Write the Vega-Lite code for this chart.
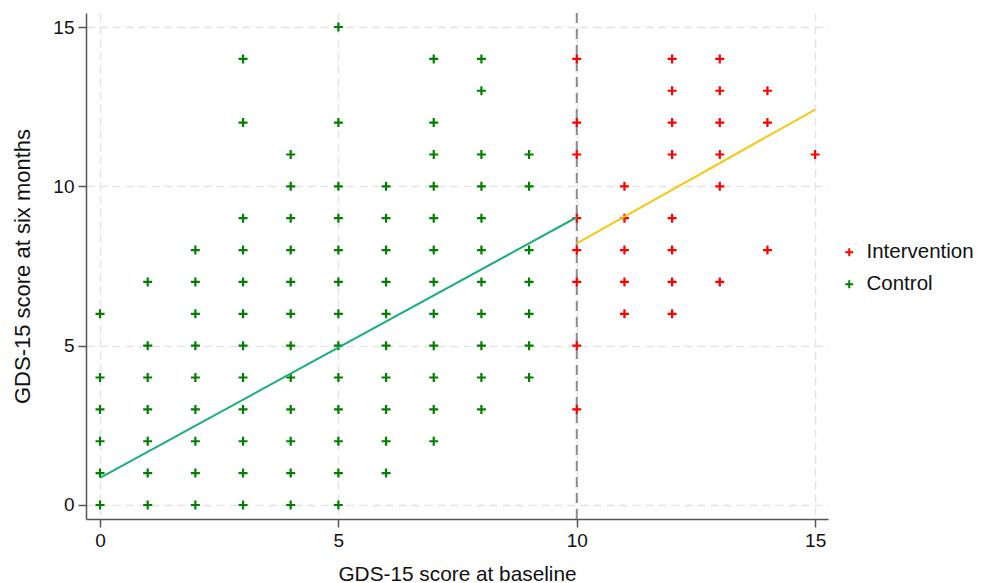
{
  "$schema": "https://vega.github.io/schema/vega-lite/v6.json",
  "autosize": {"type": "none"},
  "padding": {"left": 86, "top": 13, "right": 162, "bottom": 64},
  "width": 742,
  "height": 506,
  "background": "white",
  "config": {
    "view": {"stroke": null},
    "font": "Liberation Sans",
    "axis": {
      "labelFont": "Liberation Sans",
      "titleFont": "Liberation Sans",
      "labelFontSize": 19,
      "titleFontSize": 21,
      "titleFontWeight": "normal",
      "labelColor": "#111111",
      "titleColor": "#111111",
      "domainColor": "#555555",
      "domainWidth": 1.5,
      "tickColor": "#555555",
      "tickWidth": 1.5,
      "tickSize": 8,
      "labelPadding": 4,
      "grid": true,
      "gridColor": "#e3e3e3",
      "gridWidth": 1.5,
      "gridDash": [8, 5]
    },
    "legend": {
      "labelFont": "Liberation Sans",
      "labelFontSize": 20.5,
      "labelColor": "#111111"
    }
  },
  "datasets": {
    "points": [
      {"baseline": 0, "six_months": 6, "group": "Control"},
      {"baseline": 0, "six_months": 4, "group": "Control"},
      {"baseline": 0, "six_months": 3, "group": "Control"},
      {"baseline": 0, "six_months": 2, "group": "Control"},
      {"baseline": 0, "six_months": 1, "group": "Control"},
      {"baseline": 0, "six_months": 0, "group": "Control"},
      {"baseline": 1, "six_months": 7, "group": "Control"},
      {"baseline": 1, "six_months": 5, "group": "Control"},
      {"baseline": 1, "six_months": 4, "group": "Control"},
      {"baseline": 1, "six_months": 3, "group": "Control"},
      {"baseline": 1, "six_months": 2, "group": "Control"},
      {"baseline": 1, "six_months": 1, "group": "Control"},
      {"baseline": 1, "six_months": 0, "group": "Control"},
      {"baseline": 2, "six_months": 8, "group": "Control"},
      {"baseline": 2, "six_months": 7, "group": "Control"},
      {"baseline": 2, "six_months": 6, "group": "Control"},
      {"baseline": 2, "six_months": 5, "group": "Control"},
      {"baseline": 2, "six_months": 4, "group": "Control"},
      {"baseline": 2, "six_months": 3, "group": "Control"},
      {"baseline": 2, "six_months": 2, "group": "Control"},
      {"baseline": 2, "six_months": 1, "group": "Control"},
      {"baseline": 2, "six_months": 0, "group": "Control"},
      {"baseline": 3, "six_months": 14, "group": "Control"},
      {"baseline": 3, "six_months": 12, "group": "Control"},
      {"baseline": 3, "six_months": 9, "group": "Control"},
      {"baseline": 3, "six_months": 8, "group": "Control"},
      {"baseline": 3, "six_months": 7, "group": "Control"},
      {"baseline": 3, "six_months": 6, "group": "Control"},
      {"baseline": 3, "six_months": 5, "group": "Control"},
      {"baseline": 3, "six_months": 4, "group": "Control"},
      {"baseline": 3, "six_months": 3, "group": "Control"},
      {"baseline": 3, "six_months": 2, "group": "Control"},
      {"baseline": 3, "six_months": 1, "group": "Control"},
      {"baseline": 3, "six_months": 0, "group": "Control"},
      {"baseline": 4, "six_months": 11, "group": "Control"},
      {"baseline": 4, "six_months": 10, "group": "Control"},
      {"baseline": 4, "six_months": 9, "group": "Control"},
      {"baseline": 4, "six_months": 8, "group": "Control"},
      {"baseline": 4, "six_months": 7, "group": "Control"},
      {"baseline": 4, "six_months": 6, "group": "Control"},
      {"baseline": 4, "six_months": 5, "group": "Control"},
      {"baseline": 4, "six_months": 4, "group": "Control"},
      {"baseline": 4, "six_months": 3, "group": "Control"},
      {"baseline": 4, "six_months": 2, "group": "Control"},
      {"baseline": 4, "six_months": 1, "group": "Control"},
      {"baseline": 4, "six_months": 0, "group": "Control"},
      {"baseline": 5, "six_months": 15, "group": "Control"},
      {"baseline": 5, "six_months": 12, "group": "Control"},
      {"baseline": 5, "six_months": 10, "group": "Control"},
      {"baseline": 5, "six_months": 9, "group": "Control"},
      {"baseline": 5, "six_months": 8, "group": "Control"},
      {"baseline": 5, "six_months": 7, "group": "Control"},
      {"baseline": 5, "six_months": 6, "group": "Control"},
      {"baseline": 5, "six_months": 5, "group": "Control"},
      {"baseline": 5, "six_months": 4, "group": "Control"},
      {"baseline": 5, "six_months": 3, "group": "Control"},
      {"baseline": 5, "six_months": 2, "group": "Control"},
      {"baseline": 5, "six_months": 1, "group": "Control"},
      {"baseline": 5, "six_months": 0, "group": "Control"},
      {"baseline": 6, "six_months": 10, "group": "Control"},
      {"baseline": 6, "six_months": 9, "group": "Control"},
      {"baseline": 6, "six_months": 8, "group": "Control"},
      {"baseline": 6, "six_months": 7, "group": "Control"},
      {"baseline": 6, "six_months": 6, "group": "Control"},
      {"baseline": 6, "six_months": 5, "group": "Control"},
      {"baseline": 6, "six_months": 4, "group": "Control"},
      {"baseline": 6, "six_months": 3, "group": "Control"},
      {"baseline": 6, "six_months": 2, "group": "Control"},
      {"baseline": 6, "six_months": 1, "group": "Control"},
      {"baseline": 7, "six_months": 14, "group": "Control"},
      {"baseline": 7, "six_months": 12, "group": "Control"},
      {"baseline": 7, "six_months": 11, "group": "Control"},
      {"baseline": 7, "six_months": 10, "group": "Control"},
      {"baseline": 7, "six_months": 9, "group": "Control"},
      {"baseline": 7, "six_months": 8, "group": "Control"},
      {"baseline": 7, "six_months": 7, "group": "Control"},
      {"baseline": 7, "six_months": 6, "group": "Control"},
      {"baseline": 7, "six_months": 5, "group": "Control"},
      {"baseline": 7, "six_months": 4, "group": "Control"},
      {"baseline": 7, "six_months": 3, "group": "Control"},
      {"baseline": 7, "six_months": 2, "group": "Control"},
      {"baseline": 8, "six_months": 14, "group": "Control"},
      {"baseline": 8, "six_months": 13, "group": "Control"},
      {"baseline": 8, "six_months": 11, "group": "Control"},
      {"baseline": 8, "six_months": 10, "group": "Control"},
      {"baseline": 8, "six_months": 9, "group": "Control"},
      {"baseline": 8, "six_months": 8, "group": "Control"},
      {"baseline": 8, "six_months": 7, "group": "Control"},
      {"baseline": 8, "six_months": 6, "group": "Control"},
      {"baseline": 8, "six_months": 5, "group": "Control"},
      {"baseline": 8, "six_months": 4, "group": "Control"},
      {"baseline": 8, "six_months": 3, "group": "Control"},
      {"baseline": 9, "six_months": 11, "group": "Control"},
      {"baseline": 9, "six_months": 10, "group": "Control"},
      {"baseline": 9, "six_months": 8, "group": "Control"},
      {"baseline": 9, "six_months": 7, "group": "Control"},
      {"baseline": 9, "six_months": 6, "group": "Control"},
      {"baseline": 9, "six_months": 5, "group": "Control"},
      {"baseline": 9, "six_months": 4, "group": "Control"},
      {"baseline": 10, "six_months": 14, "group": "Intervention"},
      {"baseline": 10, "six_months": 12, "group": "Intervention"},
      {"baseline": 10, "six_months": 11, "group": "Intervention"},
      {"baseline": 10, "six_months": 9, "group": "Intervention"},
      {"baseline": 10, "six_months": 8, "group": "Intervention"},
      {"baseline": 10, "six_months": 7, "group": "Intervention"},
      {"baseline": 10, "six_months": 5, "group": "Intervention"},
      {"baseline": 10, "six_months": 3, "group": "Intervention"},
      {"baseline": 11, "six_months": 10, "group": "Intervention"},
      {"baseline": 11, "six_months": 9, "group": "Intervention"},
      {"baseline": 11, "six_months": 8, "group": "Intervention"},
      {"baseline": 11, "six_months": 7, "group": "Intervention"},
      {"baseline": 11, "six_months": 6, "group": "Intervention"},
      {"baseline": 12, "six_months": 14, "group": "Intervention"},
      {"baseline": 12, "six_months": 13, "group": "Intervention"},
      {"baseline": 12, "six_months": 12, "group": "Intervention"},
      {"baseline": 12, "six_months": 11, "group": "Intervention"},
      {"baseline": 12, "six_months": 9, "group": "Intervention"},
      {"baseline": 12, "six_months": 8, "group": "Intervention"},
      {"baseline": 12, "six_months": 7, "group": "Intervention"},
      {"baseline": 12, "six_months": 6, "group": "Intervention"},
      {"baseline": 13, "six_months": 14, "group": "Intervention"},
      {"baseline": 13, "six_months": 13, "group": "Intervention"},
      {"baseline": 13, "six_months": 12, "group": "Intervention"},
      {"baseline": 13, "six_months": 11, "group": "Intervention"},
      {"baseline": 13, "six_months": 10, "group": "Intervention"},
      {"baseline": 13, "six_months": 7, "group": "Intervention"},
      {"baseline": 14, "six_months": 13, "group": "Intervention"},
      {"baseline": 14, "six_months": 12, "group": "Intervention"},
      {"baseline": 14, "six_months": 8, "group": "Intervention"},
      {"baseline": 15, "six_months": 11, "group": "Intervention"}
    ],
    "fits": [
      {"baseline": 0, "six_months": 0.85, "fit": "Control fit"},
      {"baseline": 10, "six_months": 9.03, "fit": "Control fit"},
      {"baseline": 10, "six_months": 8.21, "fit": "Intervention fit"},
      {"baseline": 15, "six_months": 12.41, "fit": "Intervention fit"}
    ],
    "cutoff": [{"baseline": 10}]
  },
  "layer": [
    {
      "data": {"name": "cutoff"},
      "mark": {"type": "rule", "color": "#8c8c8c", "strokeWidth": 2, "strokeDash": [10, 6]},
      "encoding": {
        "x": {"field": "baseline", "type": "quantitative"}
      }
    },
    {
      "data": {"name": "points"},
      "mark": {"type": "point", "shape": "M-1,0H1M0,-1V1", "filled": false, "size": 81, "strokeWidth": 2.2, "opacity": 1},
      "encoding": {
        "x": {
          "field": "baseline", "type": "quantitative",
          "scale": {"domain": [-0.294, 15.27], "nice": false, "zero": false},
          "axis": {"values": [0, 5, 10, 15], "title": "GDS-15 score at baseline", "titleFontSize": 20.8, "titleY": 61, "titleBaseline": "alphabetic"}
        },
        "y": {
          "field": "six_months", "type": "quantitative",
          "scale": {"domain": [-0.44, 15.44], "nice": false, "zero": false},
          "axis": {"values": [0, 5, 10, 15], "title": "GDS-15 score at six months", "titleFontSize": 22, "titlePadding": 18}
        },
        "color": {
          "field": "group", "type": "nominal",
          "scale": {"domain": ["Intervention", "Control"], "range": ["#ff0000", "#007f00"]},
          "legend": {
            "title": null, "orient": "none", "legendX": 753, "legendY": 229,
            "padding": 0, "symbolType": "M-1,0H1M0,-1V1", "symbolSize": 64,
            "symbolStrokeWidth": 2, "labelOffset": 7, "rowPadding": 11
          }
        }
      }
    },
    {
      "data": {"name": "fits"},
      "mark": {"type": "line", "strokeWidth": 2},
      "encoding": {
        "x": {"field": "baseline", "type": "quantitative"},
        "y": {"field": "six_months", "type": "quantitative"},
        "color": {
          "field": "fit", "type": "nominal",
          "scale": {"domain": ["Control fit", "Intervention fit"], "range": ["#1aaf78", "#f5c814"]},
          "legend": null
        }
      }
    }
  ],
  "resolve": {"scale": {"color": "independent"}}
}
